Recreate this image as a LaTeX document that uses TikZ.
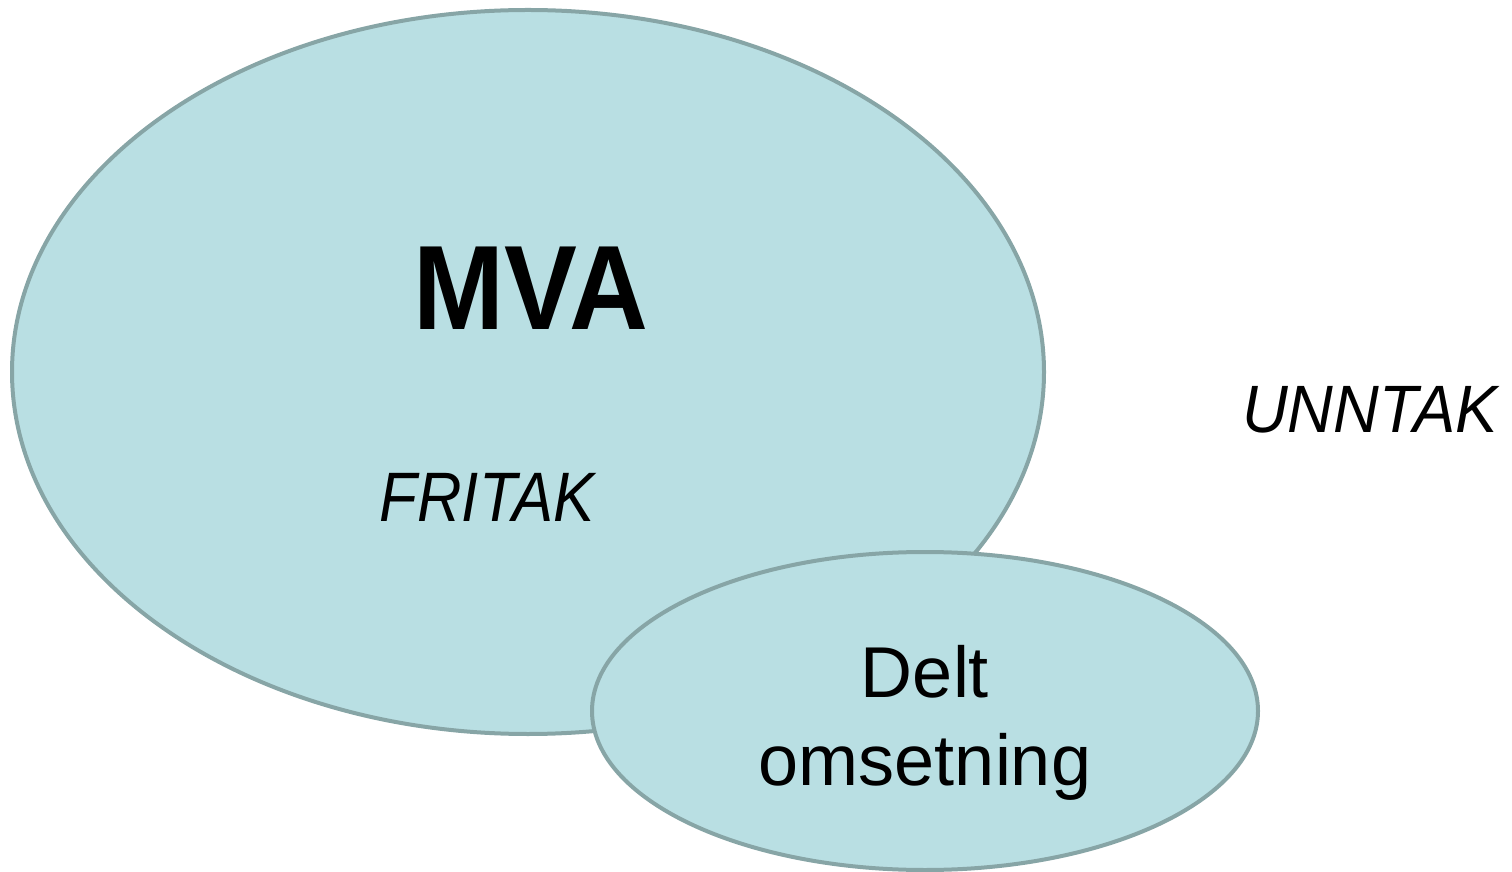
\documentclass[tikz,border=0pt]{standalone}
\usepackage{fontspec}
\setmainfont{Liberation Sans}
\usetikzlibrary{shapes.geometric}
\definecolor{fillc}{HTML}{B9DFE3}
\definecolor{linec}{HTML}{87A5A6}
\tikzset{
  blob/.style={ellipse, draw=linec, fill=fillc, line width=4pt, inner sep=0pt},
  lbl/.style={anchor=base, inner sep=0pt, text=black}
}
\begin{document}
\begin{tikzpicture}[x=1pt,y=1pt]
\useasboundingbox (0,0) rectangle (1512,871);
\node[blob, minimum width=1032pt, minimum height=724pt] (mva) at (528,499) {};
\node[lbl] (mvat) at (531,541) {\scalebox{0.91}[1]{\fontsize{120}{130}\selectfont\bfseries MVA}};
\node[lbl] (fritak) at (487,349) {\scalebox{0.88}[1]{\fontsize{70}{80}\selectfont\itshape FRITAK}};
\node[blob, minimum width=666pt, minimum height=318pt] (delt) at (925,160) {};
\node[lbl] (deltt) at (925,174) {\fontsize{72}{88}\selectfont Delt};
\node[lbl] (oms) at (925,86) {\fontsize{72}{88}\selectfont omsetning};
\node[lbl] (unntak) at (1370,438) {\scalebox{0.945}[1]{\fontsize{67}{80}\selectfont\itshape UNNTAK}};
\end{tikzpicture}
\end{document}
